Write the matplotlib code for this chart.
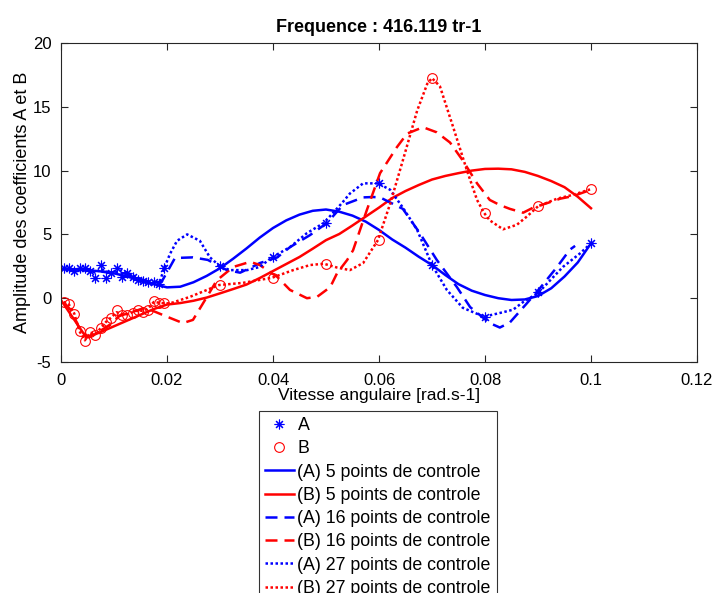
import matplotlib
matplotlib.use("Agg")
import matplotlib.pyplot as plt

plt.rcParams['font.family'] = ['Liberation Sans', 'DejaVu Sans']

# ---------------- data ----------------
# measured points
xA = [0.0005, 0.0015, 0.0025, 0.0035, 0.0045, 0.0055, 0.0065, 0.0075, 0.0085, 0.0095,
      0.0105, 0.0115, 0.0125, 0.0135, 0.0145, 0.0155, 0.0165, 0.0175, 0.0185, 0.0195,
      0.03, 0.04, 0.05, 0.06, 0.07, 0.08, 0.09, 0.10]
yA = [2.35, 2.35, 2.1, 2.35, 2.35, 2.1, 1.6, 2.6, 1.6, 2.0,
      2.35, 1.7, 1.95, 1.7, 1.45, 1.35, 1.3, 1.25, 1.1, 2.4,
      2.5, 3.2, 5.9, 9.0, 2.6, -1.45, 0.48, 4.3]
xB = xA
yB = [-0.27, -0.45, -1.2, -2.6, -3.35, -2.65, -2.9, -2.35, -1.85, -1.55,
      -0.95, -1.3, -1.3, -1.15, -0.95, -1.05, -0.9, -0.2, -0.35, -0.4,
      1.03, 1.6, 2.7, 4.55, 17.25, 6.7, 7.2, 8.55]

# (A) 5 control points
xA5 = [0.0, 0.0025, 0.005, 0.0075, 0.01, 0.0125, 0.015, 0.0175, 0.02, 0.0225, 0.025,
       0.0275, 0.03, 0.0325, 0.035, 0.0375, 0.04, 0.0425, 0.045, 0.0475, 0.05, 0.0525,
       0.055, 0.0575, 0.06, 0.0625, 0.065, 0.0675, 0.07, 0.0725, 0.075, 0.0775, 0.08,
       0.0825, 0.085, 0.0875, 0.09, 0.0925, 0.095, 0.0975, 0.1]
yA5 = [2.3, 2.25, 2.2, 2.1, 1.95, 1.7, 1.4, 1.1, 0.85, 0.9, 1.25,
       1.75, 2.35, 3.1, 3.9, 4.75, 5.5, 6.1, 6.55, 6.85, 6.95, 6.78,
       6.47, 6.0, 5.35, 4.6, 3.96, 3.25, 2.6, 1.82, 1.1, 0.59, 0.25,
       0.0, -0.14, -0.1, 0.17, 0.78, 1.7, 2.8, 4.3]

# (B) 5 control points
xB5 = [0.0, 0.0048, 0.0075, 0.01, 0.0125, 0.015, 0.0175, 0.02, 0.0225, 0.025,
       0.0275, 0.03, 0.0325, 0.035, 0.0375, 0.04, 0.0425, 0.045, 0.0475, 0.05, 0.0525,
       0.055, 0.0575, 0.06, 0.0625, 0.065, 0.0675, 0.07, 0.0725, 0.075, 0.0775, 0.08,
       0.0825, 0.085, 0.0875, 0.09, 0.0925, 0.095, 0.0975, 0.1]
yB5 = [-0.15, -3.1, -2.65, -2.2, -1.75, -1.3, -0.85, -0.5, -0.38, -0.2,
       0.05, 0.38, 0.72, 1.07, 1.58, 2.13, 2.68, 3.23, 3.88, 4.55, 5.03,
       5.7, 6.4, 7.1, 7.85, 8.4, 8.87, 9.3, 9.58, 9.8, 10.0, 10.13,
       10.15, 10.1, 9.9, 9.58, 9.18, 8.7, 7.95, 7.05]

# (A) 16 control points
xA16 = [0.0005, 0.003, 0.006, 0.009, 0.012, 0.015, 0.0175, 0.019, 0.0205, 0.0215,
        0.0249, 0.0277, 0.0313, 0.0338, 0.0357, 0.0375, 0.0408, 0.0432, 0.047, 0.0502,
        0.0532, 0.057, 0.0589, 0.0602, 0.0645, 0.0677, 0.0709, 0.0747, 0.0772, 0.0809,
        0.0828, 0.0847, 0.0879, 0.0904, 0.0936, 0.096, 0.097]
yA16 = [2.3, 2.25, 2.1, 2.05, 1.95, 1.5, 1.2, 1.3, 2.4, 3.15,
        3.2, 3.0, 2.2, 2.0, 2.37, 2.75, 3.2, 4.0, 4.95, 5.9,
        7.3, 7.9, 7.93, 7.9, 7.0, 5.1, 3.0, 0.87, -0.7, -1.95,
        -2.3, -1.9, -0.4, 0.8, 2.45, 3.8, 4.1]

# (B) 16 control points
xB16 = [0.0005, 0.002, 0.0035, 0.005, 0.0065, 0.008, 0.0095, 0.011, 0.0125, 0.014,
        0.0155, 0.0168, 0.02, 0.023, 0.0249, 0.0268, 0.0294, 0.0325, 0.0357, 0.0375,
        0.0408, 0.0432, 0.0464, 0.0483, 0.0508, 0.0521, 0.054, 0.0551, 0.0577, 0.0602,
        0.0634, 0.0653, 0.0683, 0.0709, 0.0734, 0.0758, 0.0785, 0.0809, 0.0828, 0.0847,
        0.0872, 0.0891, 0.0917, 0.0942, 0.0966, 0.1]
yB16 = [-0.3, -1.0, -2.4, -3.0, -2.8, -2.4, -2.0, -1.4, -1.2, -1.0,
        -0.8, -0.9, -1.45, -1.95, -1.7, -0.4, 1.4, 2.45, 2.85, 2.6,
        1.67, 0.65, 0.0, 0.1, 0.87, 1.97, 3.0, 3.75, 6.9, 9.8,
        11.85, 12.9, 13.4, 13.0, 12.2, 10.8, 9.0, 7.7, 7.3, 7.0,
        6.7, 7.1, 7.45, 7.8, 8.0, 8.5]

# (A) 27 control points
xA27 = [0.0005, 0.0025, 0.0045, 0.0065, 0.0075, 0.0095, 0.0115, 0.0135, 0.0155, 0.0175,
        0.0185, 0.0195, 0.0206, 0.0219, 0.0238, 0.0262, 0.0281, 0.03, 0.0319, 0.0351,
        0.0375, 0.0398, 0.0432, 0.0464, 0.0496, 0.053, 0.0545, 0.057, 0.0598, 0.0621,
        0.0645, 0.0672, 0.07, 0.0728, 0.0758, 0.0798, 0.0834, 0.0853, 0.0872, 0.09,
        0.0947, 0.0979, 0.1]
yA27 = [2.3, 2.2, 2.3, 2.0, 2.3, 1.9, 2.2, 1.8, 1.4, 1.2,
        1.1, 2.4, 3.5, 4.5, 5.0, 4.5, 3.2, 2.5, 2.2, 2.2,
        2.45, 3.2, 4.0, 5.1, 5.9, 7.45, 8.2, 9.0, 9.0, 8.5,
        7.1, 5.35, 2.6, 0.65, -0.75, -1.45, -1.1, -0.9, -0.3, 0.4,
        2.45, 3.5, 4.3]

# (B) 27 control points
xB27 = [0.0005, 0.0015, 0.0025, 0.0035, 0.0045, 0.0055, 0.0065, 0.0075, 0.0085, 0.0095,
        0.0105, 0.0115, 0.0125, 0.0135, 0.0145, 0.0155, 0.0165, 0.0175, 0.0185, 0.0195,
        0.0206, 0.0243, 0.0298, 0.0343, 0.0398, 0.0438, 0.047, 0.0496, 0.0521, 0.0545,
        0.057, 0.0598, 0.0621, 0.0645, 0.0672, 0.0691, 0.07, 0.0715, 0.074, 0.0766,
        0.0785, 0.0798, 0.0809, 0.0834, 0.086, 0.0879, 0.09, 0.0936, 0.0966, 0.1]
yB27 = [-0.3, -0.5, -1.2, -2.6, -3.3, -2.7, -2.8, -2.35, -1.85, -1.5,
        -1.1, -1.25, -1.25, -1.1, -0.95, -1.0, -0.8, -0.3, -0.35, -0.4,
        -0.4, 0.1, 1.03, 1.2, 1.6, 2.2, 2.6, 2.7, 2.4, 2.2,
        2.75, 4.55, 7.4, 10.8, 14.7, 16.8, 17.25, 16.6, 13.4, 10.0,
        7.7, 6.7, 6.1, 5.4, 5.75, 6.4, 7.2, 7.8, 8.1, 8.55]

xticks = [0, 0.02, 0.04, 0.06, 0.08, 0.1, 0.12]
xticklabels = ['0', '0.02', '0.04', '0.06', '0.08', '0.1', '0.12']
yticks = [-5, 0, 5, 10, 15, 20]
yticklabels = ['-5', '0', '5', '10', '15', '20']

title = 'Frequence : 416.119 tr-1'
xlabel = 'Vitesse angulaire [rad.s-1]'
ylabel = 'Amplitude des coefficients A et B'
labels = ['A', 'B', '(A) 5 points de controle', '(B) 5 points de controle',
          '(A) 16 points de controle', '(B) 16 points de controle',
          '(A) 27 points de controle', '(B) 27 points de controle']

# ---------------- plot ----------------
fig = plt.figure(figsize=(7.16, 5.93), dpi=100)
ax = fig.add_axes([61/716, 1-362/593, 636/716, 319/593])

blue = (0, 0, 1)
red = (1, 0, 0)
lw = 1.8
dash = (0, (4.8, 2.8))
dot = (0, (1, 1))

hA, = ax.plot(xA, yA, linestyle='none', marker=(8, 2, 0), color=blue, markersize=7, markeredgewidth=0.8)
hB, = ax.plot(xB, yB, linestyle='none', marker='o', markerfacecolor='none', markeredgecolor=red,
              markersize=7, markeredgewidth=0.8)
h1, = ax.plot(xA5, yA5, color=blue, lw=lw, linestyle='-')
h2, = ax.plot(xB5, yB5, color=red, lw=lw, linestyle='-')
h3, = ax.plot(xA16, yA16, color=blue, lw=lw, linestyle=dash)
h4, = ax.plot(xB16, yB16, color=red, lw=lw, linestyle=dash)
h5, = ax.plot(xA27, yA27, color=blue, lw=lw, linestyle=dot)
h6, = ax.plot(xB27, yB27, color=red, lw=lw, linestyle=dot)

ax.set_xlim(0, 0.12)
ax.set_ylim(-5, 20)
ax.set_xticks(xticks)
ax.set_xticklabels(xticklabels)
ax.set_yticks(yticks)
ax.set_yticklabels(yticklabels)
ax.tick_params(direction='in', length=5, width=0.8, top=True, right=True,
               labelsize=12, colors=(0.15, 0.15, 0.15), labelcolor='black')
ax.tick_params(axis='x', pad=8)
ax.tick_params(axis='y', pad=7)
for s in ax.spines.values():
    s.set_color((0.15, 0.15, 0.15))
    s.set_linewidth(0.8)

ax.set_title(title, fontsize=13, fontweight='bold', pad=8)
ax.set_xlabel(xlabel, fontsize=12.5, labelpad=0)
ax.set_ylabel(ylabel, fontsize=13, labelpad=1)

leg = fig.legend([hA, hB, h1, h2, h3, h4, h5, h6], labels,
                 loc='upper center', bbox_to_anchor=(378/716, 1-411/593),
                 fontsize=12.8, frameon=True, fancybox=False, edgecolor='black',
                 handlelength=1.6, handletextpad=0.22, labelspacing=0.35,
                 borderpad=0.35, borderaxespad=0)
leg.get_frame().set_linewidth(0.8)

fig.savefig('out.png', dpi=100)
